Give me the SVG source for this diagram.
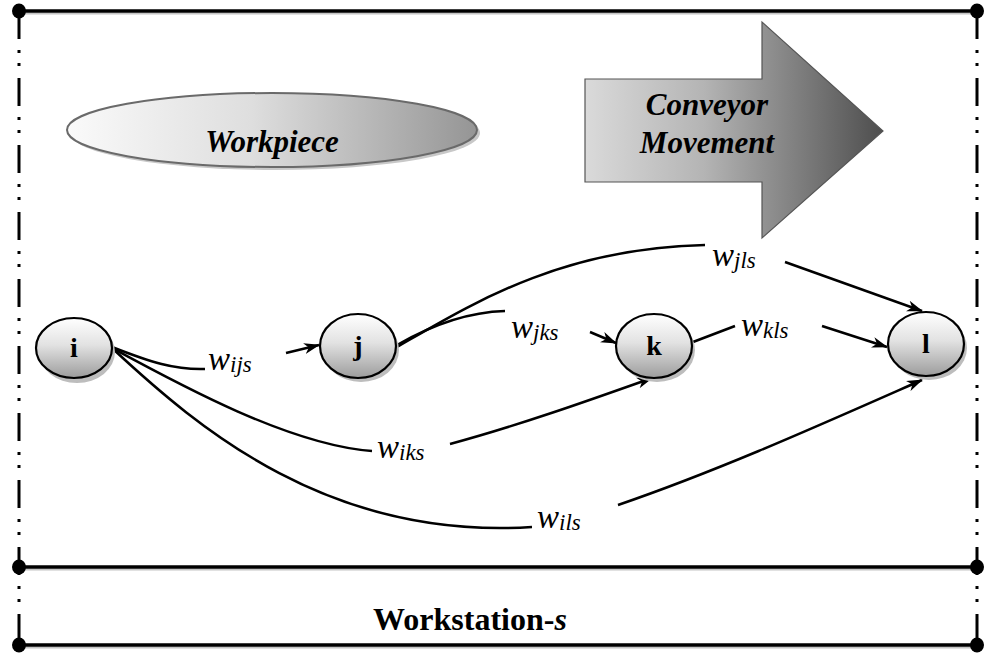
<svg xmlns="http://www.w3.org/2000/svg" width="984" height="657" viewBox="0 0 984 657">
  <defs>
    <linearGradient id="gWork" x1="0" y1="0" x2="1" y2="0">
      <stop offset="0" stop-color="#fafafa"/>
      <stop offset="0.45" stop-color="#dedede"/>
      <stop offset="1" stop-color="#959595"/>
    </linearGradient>
    <linearGradient id="gConv" x1="0" y1="0" x2="1" y2="0">
      <stop offset="0" stop-color="#dadada"/>
      <stop offset="0.4" stop-color="#b4b4b4"/>
      <stop offset="1" stop-color="#4e4e4e"/>
    </linearGradient>
    <linearGradient id="gNode" x1="0" y1="0" x2="0" y2="1">
      <stop offset="0" stop-color="#ffffff"/>
      <stop offset="0.45" stop-color="#e2e2e2"/>
      <stop offset="1" stop-color="#9c9c9c"/>
    </linearGradient>
    <marker id="arr" markerUnits="userSpaceOnUse" markerWidth="18" markerHeight="12" refX="15" refY="6" orient="auto">
      <path d="M0,0.5 L16,6 L0,11.5 L4.5,6 z" fill="#000"/>
    </marker>
  </defs>
  <style>
    .frame { stroke: #000; stroke-width: 3.5; fill: none; }
    .frameShadow { stroke: #c4c4c4; stroke-width: 2; fill: none; }
    .side { stroke: #000; stroke-width: 3; fill: none; stroke-dasharray: 28 11 3 10 3 12; }
    .corner { fill: #000; }
    .edge { stroke: #000; stroke-width: 2.5; fill: none; }
    .node { fill: url(#gNode); stroke: #000; stroke-width: 2.2; }
    .nodeShadow { fill: #bdbdbd; }
    .nodeLabel { font-family: "Liberation Serif", "Times New Roman", serif; font-weight: bold; font-size: 28px; text-anchor: middle; fill: #000; }
    .title { font-family: "Liberation Serif", "Times New Roman", serif; font-weight: bold; font-style: italic; font-size: 31px; text-anchor: middle; fill: #000; }
    .wlabel { font-family: "Liberation Serif", "Times New Roman", serif; font-style: italic; font-size: 33px; fill: #000; }
    .sub { font-size: 23px; }
    .station { font-family: "Liberation Serif", "Times New Roman", serif; font-weight: bold; font-size: 32px; text-anchor: middle; fill: #000; }
  </style>

  <!-- workstation frame -->
  <g id="frame">
    <line class="frameShadow" x1="19" y1="13.5" x2="977" y2="13.5"/>
    <line class="frameShadow" x1="19" y1="569.5" x2="977" y2="569.5"/>
    <line class="frameShadow" x1="19" y1="647.5" x2="977" y2="647.5"/>
    <line class="frame" x1="19" y1="11" x2="977" y2="11"/>
    <line class="frame" x1="19" y1="567" x2="977" y2="567"/>
    <line class="frame" x1="19" y1="645" x2="977" y2="645"/>
    <line class="side" x1="19" y1="11" x2="19" y2="645"/>
    <line class="side" x1="977" y1="11" x2="977" y2="645"/>
    <ellipse class="corner" cx="19" cy="11" rx="7" ry="7.5"/>
    <ellipse class="corner" cx="977" cy="11" rx="7" ry="7.5"/>
    <ellipse class="corner" cx="19" cy="567" rx="7" ry="7.5"/>
    <ellipse class="corner" cx="977" cy="567" rx="7" ry="7.5"/>
    <ellipse class="corner" cx="19" cy="645" rx="7" ry="7.5"/>
    <ellipse class="corner" cx="977" cy="645" rx="7" ry="7.5"/>
    <text class="station" x="470" y="630">Workstation-<tspan font-style="italic">s</tspan></text>
  </g>

  <!-- workpiece -->
  <g id="workpiece">
    <ellipse cx="275" cy="133" rx="205" ry="37" fill="#c8c8c8"/>
    <ellipse cx="272" cy="130" rx="205" ry="37" fill="url(#gWork)" stroke="#6a6a6a" stroke-width="2"/>
    <text class="title" x="272" y="152">Workpiece</text>
  </g>

  <!-- conveyor direction -->
  <g id="conveyor">
    <path d="M585,79 L762,79 L762,22 L883,131 L762,238 L762,182 L585,182 z" fill="url(#gConv)" stroke="#555" stroke-width="1.2"/>
    <text class="title" x="707" y="115">Conveyor</text>
    <text class="title" x="707" y="153">Movement</text>
  </g>

  <!-- connectors -->
  <g id="connectors">
    <!-- i to j -->
    <path class="edge" d="M112,347 C150,362 175,370 205,369"/>
    <path class="edge" d="M286,353 L319,345" marker-end="url(#arr)"/>
    <!-- j to k -->
    <path class="edge" d="M397,345 C430,326 468,312 505,311"/>
    <path class="edge" d="M590,332 L616,343" marker-end="url(#arr)"/>
    <!-- j to l -->
    <path class="edge" d="M397,347 C470,305 560,248 705,245"/>
    <path class="edge" d="M785,262 L922,311" marker-end="url(#arr)"/>
    <!-- k to l -->
    <path class="edge" d="M693,342 L735,326"/>
    <path class="edge" d="M822,326 L887,347" marker-end="url(#arr)"/>
    <!-- i to k -->
    <path class="edge" d="M112,348 C180,385 290,445 372,451"/>
    <path class="edge" d="M450,444 C520,425 590,400 652,378" marker-end="url(#arr)"/>
    <!-- i to l -->
    <path class="edge" d="M112,348 C200,430 330,540 532,527"/>
    <path class="edge" d="M618,505 C720,470 820,425 922,380" marker-end="url(#arr)"/>
  </g>

  <!-- weight labels -->
  <g id="weights">
    <text class="wlabel" x="208" y="370">w<tspan class="sub" dy="2">ijs</tspan></text>
    <text class="wlabel" x="511" y="338">w<tspan class="sub" dy="2">jks</tspan></text>
    <text class="wlabel" x="712" y="266">w<tspan class="sub" dy="2">jls</tspan></text>
    <text class="wlabel" x="741" y="336">w<tspan class="sub" dy="2">kls</tspan></text>
    <text class="wlabel" x="377" y="458">w<tspan class="sub" dy="2">iks</tspan></text>
    <text class="wlabel" x="537" y="528">w<tspan class="sub" dy="2">ils</tspan></text>
  </g>

  <!-- operations -->
  <g id="node-i">
    <ellipse class="nodeShadow" cx="77" cy="352" rx="38" ry="31"/>
    <ellipse class="node" cx="74" cy="348" rx="38" ry="30"/>
    <text class="nodeLabel" x="74" y="357">i</text>
  </g>
  <g id="node-j">
    <ellipse class="nodeShadow" cx="361" cy="350" rx="38" ry="32"/>
    <ellipse class="node" cx="358" cy="346" rx="38" ry="32"/>
    <text class="nodeLabel" x="358" y="355">j</text>
  </g>
  <g id="node-k">
    <ellipse class="nodeShadow" cx="657" cy="350" rx="38" ry="32"/>
    <ellipse class="node" cx="654" cy="346" rx="38" ry="32"/>
    <text class="nodeLabel" x="654" y="355">k</text>
  </g>
  <g id="node-l">
    <ellipse class="nodeShadow" cx="929" cy="348" rx="38" ry="32"/>
    <ellipse class="node" cx="926" cy="344" rx="38" ry="32"/>
    <text class="nodeLabel" x="926" y="353">l</text>
  </g>
</svg>
